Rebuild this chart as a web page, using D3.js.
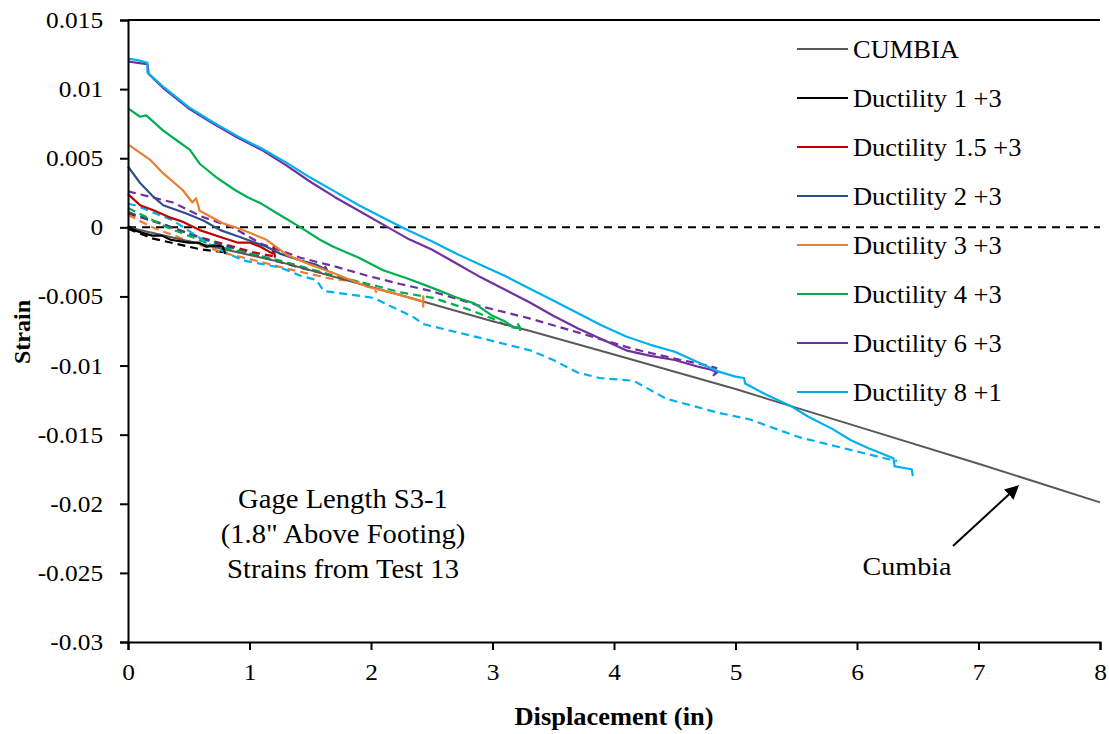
<!DOCTYPE html>
<html>
<head>
<meta charset="utf-8">
<script src="https://cdn.jsdelivr.net/npm/d3@7"></script>
<style>
  body { margin: 0; background: #fff; }
  svg text { font-family: "Liberation Serif", "Times New Roman", serif; fill: #000; }
</style>
</head>
<body>
<div id="chart"></div>
<script>
// data: [displacement (in), strain]
const cumbia = [[0,0],[0.5,-0.0010],[1,-0.0020],[1.25,-0.0025],[2.24,-0.0049],[3,-0.0068],[3.31,-0.0075],[4,-0.0092],[5,-0.0117],[5.37,-0.0127],[6,-0.0144],[7,-0.0171],[8,-0.0199]];

const d1Solid = [[0,0.0001],[0.05,-0.0002],[0.12,-0.0004],[0.2,-0.0006],[0.28,-0.0006],[0.35,-0.0009],[0.5,-0.0011],[0.58,-0.0011],[0.65,-0.0014],[0.72,-0.0013],[0.78,-0.0014],[0.8,-0.0019]];
const d1Dash = [[0,-0.0001],[0.2,-0.0008],[0.4,-0.0012],[0.6,-0.0016],[0.8,-0.0018]];

const d15Solid = [[0,0.0024],[0.1,0.0016],[0.22,0.0012],[0.35,0.0007],[0.45,0.0004],[0.59,-0.0002],[0.76,-0.0007],[0.9,-0.0011],[1.0,-0.0011],[1.09,-0.0014],[1.19,-0.0019],[1.2,-0.0014],[1.21,-0.0022]];
const d15Dash = [[0,0.0010],[0.26,0.0003],[0.62,-0.0008],[1.03,-0.0018],[1.2,-0.0021]];

const d2Solid = [[0,0.0044],[0.1,0.0032],[0.21,0.0022],[0.29,0.0016],[0.48,0.0010],[0.62,0.0005],[0.76,-0.0002],[0.92,-0.0007],[1.14,-0.0014],[1.25,-0.0019],[1.42,-0.0024],[1.55,-0.0027],[1.64,-0.0031],[1.62,-0.0028]];
const d2Dash = [[0,0.0011],[0.3,0.0002],[0.6,-0.0008],[0.9,-0.0016],[1.2,-0.0024],[1.45,-0.0030],[1.6,-0.0033]];

const d3Solid = [[0,0.0060],[0.18,0.0049],[0.29,0.0039],[0.45,0.0027],[0.53,0.0018],[0.56,0.0021],[0.59,0.0012],[0.78,0.0003],[0.92,-0.0001],[1.14,-0.0009],[1.31,-0.0020],[1.5,-0.0027],[1.69,-0.0033],[1.97,-0.0043],[2.2,-0.0048],[2.4,-0.0053],[2.43,-0.0054],[2.43,-0.0050],[2.43,-0.0058]];
const d3Dash = [[0,0.0009],[0.2,0],[0.5,-0.0010],[0.81,-0.0019],[1.05,-0.0024],[1.31,-0.0030],[1.66,-0.0037],[1.94,-0.0040],[2.05,-0.0047]];

const d4Solid = [[0,0.0086],[0.1,0.0080],[0.15,0.0081],[0.29,0.0070],[0.4,0.0063],[0.51,0.0056],[0.59,0.0046],[0.73,0.0036],[0.88,0.0027],[0.98,0.0022],[1.1,0.0017],[1.23,0.0010],[1.42,0],[1.58,-0.0009],[1.69,-0.0014],[1.9,-0.0022],[2.1,-0.0031],[2.3,-0.0037],[2.51,-0.0044],[2.71,-0.0051],[2.85,-0.0055],[3.0,-0.0064],[3.1,-0.0068],[3.17,-0.0072],[3.23,-0.0073],[3.21,-0.0070],[3.23,-0.0075]];
const d4Dash = [[0,0.0014],[0.32,0],[0.7,-0.0013],[1.25,-0.0024],[1.7,-0.0035],[2.07,-0.0043],[2.24,-0.0047],[2.51,-0.0051],[2.79,-0.0059],[3.0,-0.0066],[3.14,-0.0072],[3.2,-0.0073]];

const d6Solid = [[0,0.0120],[0.08,0.0119],[0.16,0.0118],[0.17,0.0111],[0.3,0.0100],[0.5,0.0086],[0.7,0.0075],[0.9,0.0065],[1.1,0.0056],[1.3,0.0045],[1.5,0.0033],[1.7,0.0022],[1.9,0.0012],[2.14,0],[2.3,-0.0008],[2.5,-0.0016],[2.7,-0.0026],[2.9,-0.0036],[3.1,-0.0045],[3.3,-0.0054],[3.5,-0.0064],[3.7,-0.0073],[3.9,-0.0081],[4.1,-0.0089],[4.3,-0.0093],[4.5,-0.0096],[4.7,-0.0101],[4.8,-0.0103],[4.85,-0.0105],[4.82,-0.0107],[4.85,-0.0104]];
const d6Dash = [[0,0.0026],[0.37,0.0018],[0.6,0.0008],[0.86,0],[1.1,-0.0012],[1.42,-0.0022],[1.69,-0.0028],[1.97,-0.0035],[2.24,-0.0041],[2.49,-0.0046],[2.9,-0.0057],[3.31,-0.0066],[3.7,-0.0076],[4.16,-0.0088],[4.5,-0.0095],[4.77,-0.0100],[4.85,-0.0102]];

const d8Solid = [[0,0.0122],[0.08,0.0121],[0.16,0.0119],[0.16,0.0112],[0.3,0.0101],[0.5,0.0087],[0.7,0.0076],[0.9,0.0066],[1.1,0.0057],[1.3,0.0047],[1.5,0.0036],[1.7,0.0026],[1.9,0.0016],[2.1,0.0007],[2.3,-0.0002],[2.5,-0.0010],[2.7,-0.0019],[2.9,-0.0027],[3.1,-0.0035],[3.3,-0.0044],[3.5,-0.0053],[3.7,-0.0062],[3.9,-0.0071],[4.1,-0.0079],[4.3,-0.0085],[4.5,-0.0090],[4.7,-0.0098],[4.85,-0.0104],[5.0,-0.0108],[5.07,-0.0109],[5.08,-0.0113],[5.25,-0.0121],[5.45,-0.0129],[5.6,-0.0137],[5.8,-0.0146],[5.95,-0.0154],[6.1,-0.0160],[6.3,-0.0167],[6.31,-0.0173],[6.45,-0.0175],[6.46,-0.0180]];
const d8Dash = [[0,0.0017],[0.06,0.0016],[0.37,0.0005],[0.7,-0.0014],[0.95,-0.0024],[1.25,-0.0029],[1.42,-0.0035],[1.55,-0.0038],[1.61,-0.0046],[2.02,-0.0051],[2.35,-0.0065],[2.43,-0.0070],[2.9,-0.0080],[3.31,-0.0089],[3.5,-0.0096],[3.7,-0.0105],[3.88,-0.0109],[4.16,-0.0111],[4.43,-0.0124],[4.85,-0.0134],[5.12,-0.0139],[5.37,-0.0147],[5.53,-0.0152],[5.9,-0.0160],[6.27,-0.0168],[6.33,-0.0169]];

const legendNames = ["CUMBIA", "Ductility 1 +3", "Ductility 1.5 +3", "Ductility 2 +3", "Ductility 3 +3", "Ductility 4 +3", "Ductility 6 +3", "Ductility 8 +1"];
const colors = ["#595959", "#000000", "#C00000", "#2F4F8A", "#ED7D31", "#00B050", "#7030A0", "#00B0F0"];
const solids = [cumbia, d1Solid, d15Solid, d2Solid, d3Solid, d4Solid, d6Solid, d8Solid];
const dashes = [null, d1Dash, d15Dash, d2Dash, d3Dash, d4Dash, d6Dash, d8Dash];

const xTicks = [0, 1, 2, 3, 4, 5, 6, 7, 8];
const yTicks = [0.015, 0.01, 0.005, 0, -0.005, -0.01, -0.015, -0.02, -0.025, -0.03];
const noteLines = ["Gage Length S3-1", "(1.8\" Above Footing)", "Strains from Test 13"];

const width = 1109, height = 734;
const margin = { top: 20, right: 9, bottom: 92, left: 128 };
const sx = 1.08; // the reference text is a bit stretched horizontally

const svg = d3.select("#chart").append("svg")
    .attr("width", width)
    .attr("height", height);

const x = d3.scaleLinear().domain([0, 8]).range([margin.left, width - margin.right]);
const y = d3.scaleLinear().domain([-0.03, 0.015]).range([height - margin.bottom, margin.top]);

// top border
svg.append("line")
    .attr("x1", x(0)).attr("x2", x(8))
    .attr("y1", y(0.015)).attr("y2", y(0.015))
    .attr("stroke", "#000").attr("stroke-width", 2);

// zero line
svg.append("line")
    .attr("x1", x(0)).attr("x2", x(8))
    .attr("y1", y(0)).attr("y2", y(0))
    .attr("stroke", "#000").attr("stroke-width", 2)
    .attr("stroke-dasharray", "8,6");

const line = d3.line().x(d => x(d[0])).y(d => y(d[1]));

// data lines
solids.forEach((s, i) => {
    if (dashes[i]) {
        svg.append("path").datum(dashes[i])
            .attr("d", line).attr("fill", "none")
            .attr("stroke", colors[i]).attr("stroke-width", 2.2)
            .attr("stroke-dasharray", "8,5");
    }
});
solids.forEach((s, i) => {
    svg.append("path").datum(s)
        .attr("d", line).attr("fill", "none")
        .attr("stroke", colors[i]).attr("stroke-width", i == 0 ? 2 : 2.2)
        .attr("stroke-linejoin", "round");
});

// axes
const xAxis = svg.append("g")
    .attr("transform", `translate(0,${y(-0.03)})`)
    .call(d3.axisBottom(x).tickValues(xTicks).tickSize(8).tickFormat(d3.format("d")));
xAxis.selectAll("text")
    .attr("y", 21)
    .attr("transform", `scale(${sx},1)`)
    .style("font-size", "23.5px")
    .style("font-family", "Liberation Serif");

const yAxis = svg.append("g")
    .attr("transform", `translate(${x(0)},0)`)
    .call(d3.axisLeft(y).tickValues(yTicks).tickSize(8)
        .tickFormat(d => d == 0 ? "0" : String(+d.toFixed(3))));
yAxis.selectAll("text")
    .attr("x", -23)
    .attr("transform", `scale(${sx},1)`)
    .style("font-size", "23.5px")
    .style("font-family", "Liberation Serif");

svg.selectAll(".domain").attr("stroke", "#000").attr("stroke-width", 2);
svg.selectAll(".tick line").attr("stroke", "#000").attr("stroke-width", 2);

// axis titles
svg.append("text")
    .attr("transform", `translate(${x(4)},${716}) scale(${sx},1)`)
    .attr("text-anchor", "middle")
    .attr("dy", "0.35em")
    .style("font-size", "24.5px").style("font-weight", "bold")
    .text("Displacement (in)");

svg.append("text")
    .attr("transform", `translate(22,${332}) rotate(-90)`)
    .attr("text-anchor", "middle")
    .attr("dy", "0.35em")
    .style("font-size", "24px").style("font-weight", "bold")
    .text("Strain");

// legend
const legend = svg.append("g");
legendNames.forEach((name, i) => {
    const ly = 49 + i * 49;
    legend.append("line")
        .attr("x1", 797).attr("x2", 848)
        .attr("y1", ly).attr("y2", ly)
        .attr("stroke", colors[i]).attr("stroke-width", 2);
    legend.append("text")
        .attr("transform", `translate(853,${ly}) scale(${sx},1)`)
        .attr("dy", "0.35em")
        .style("font-size", "24.5px")
        .text(name);
});

// note
noteLines.forEach((t, i) => {
    svg.append("text")
        .attr("transform", `translate(343,${499 + i * 35}) scale(${sx},1)`)
        .attr("text-anchor", "middle")
        .attr("dy", "0.35em")
        .style("font-size", "26.5px")
        .text(t);
});

// Cumbia arrow
svg.append("defs").append("marker")
    .attr("id", "head")
    .attr("viewBox", "0 0 10 10")
    .attr("refX", 8).attr("refY", 5)
    .attr("markerWidth", 7).attr("markerHeight", 7)
    .attr("orient", "auto")
    .append("path").attr("d", "M0,0 L10,5 L0,10 z").attr("fill", "#000");

svg.append("line")
    .attr("x1", 953).attr("y1", 546)
    .attr("x2", 1017).attr("y2", 487)
    .attr("stroke", "#000").attr("stroke-width", 2)
    .attr("marker-end", "url(#head)");

svg.append("text")
    .attr("transform", `translate(907,566) scale(${sx},1)`)
    .attr("text-anchor", "middle")
    .attr("dy", "0.35em")
    .style("font-size", "26px")
    .text("Cumbia");
</script>
</body>
</html>
